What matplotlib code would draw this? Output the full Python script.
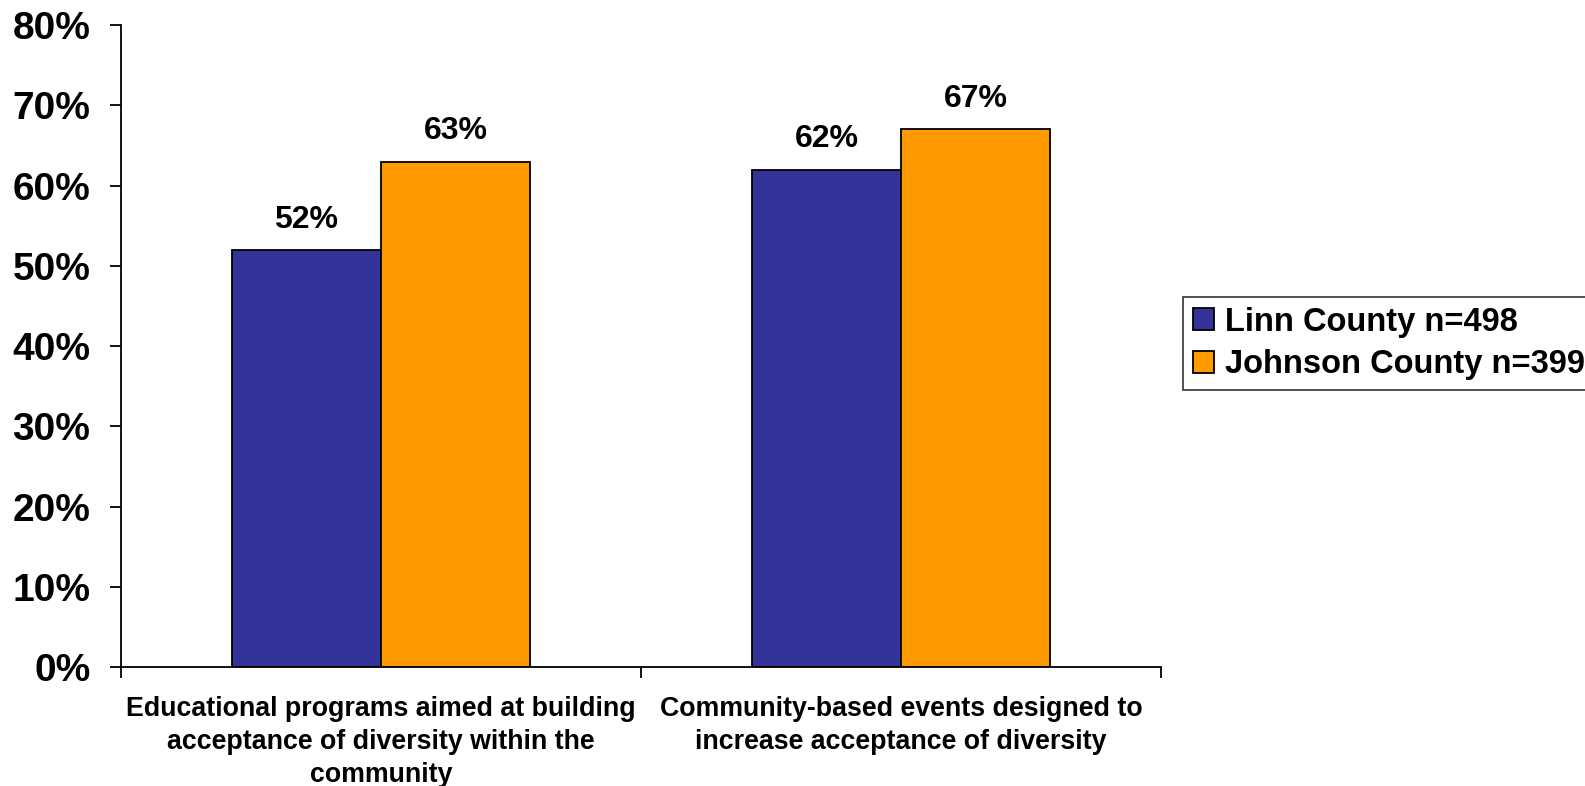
import matplotlib.pyplot as plt
from matplotlib.ticker import FuncFormatter

categories = ["Educational programs aimed at building\nacceptance of diversity within the\ncommunity",
              "Community-based events designed to\nincrease acceptance of diversity"]
series = ["Linn County n=498", "Johnson County n=399"]
linn = [52, 62]
johnson = [63, 67]
colors = ["#333399", "#FF9900"]
y_ticks = [0, 10, 20, 30, 40, 50, 60, 70, 80]

plt.rcParams['font.family'] = ['Liberation Sans', 'DejaVu Sans']
plt.rcParams['font.weight'] = 'bold'

fig = plt.figure(figsize=(15.85, 7.86), dpi=100)
ax = fig.add_axes([0.0763, 0.1514, 0.6562, 0.8166])

w = 0.2865
centers = [0.5, 1.5]
for vals, off, col, name in [(linn, -w / 2, colors[0], series[0]),
                             (johnson, w / 2, colors[1], series[1])]:
    xs = [c + off for c in centers]
    bars = ax.bar(xs, vals, width=w, color=col, edgecolor='black', linewidth=1.3, label=name)
    for b, v in zip(bars, vals):
        ax.annotate(f"{v}%", (b.get_x() + b.get_width() / 2, v), xytext=(0, 11),
                    textcoords='offset points', ha='center', va='bottom',
                    fontsize=23, fontweight='bold')

ax.set_xlim(0, 2)
ax.set_ylim(0, 80)
ax.set_yticks(y_ticks)
ax.yaxis.set_major_formatter(FuncFormatter(lambda v, p: f"{int(v)}%"))
ax.tick_params(axis='y', length=8, width=1.3, pad=14, labelsize=28)

# category names at the centres, tick marks only at the boundaries
ax.set_xticks(centers)
ax.set_xticklabels(categories, fontsize=19.3, fontweight='bold', linespacing=1.35)
ax.set_xticks([0, 1, 2], minor=True)
ax.tick_params(axis='x', which='major', length=0, pad=21)
ax.tick_params(axis='x', which='minor', length=8, width=1.3)

for s in ['top', 'right']:
    ax.spines[s].set_visible(False)
ax.spines['left'].set_linewidth(1.3)
ax.spines['bottom'].set_linewidth(1.3)

leg = fig.legend(loc='upper left', bbox_to_anchor=(0.7464, 0.6221), frameon=True,
                 fancybox=False, edgecolor='black', fontsize=23.5,
                 handlelength=0.65, handleheight=0.65, handletextpad=0.35,
                 borderpad=0.3, labelspacing=0.35, borderaxespad=0)
leg.get_frame().set_linewidth(1.2)
for t in leg.get_texts():
    t.set_fontweight('bold')

fig.savefig('out.png', dpi=100)
